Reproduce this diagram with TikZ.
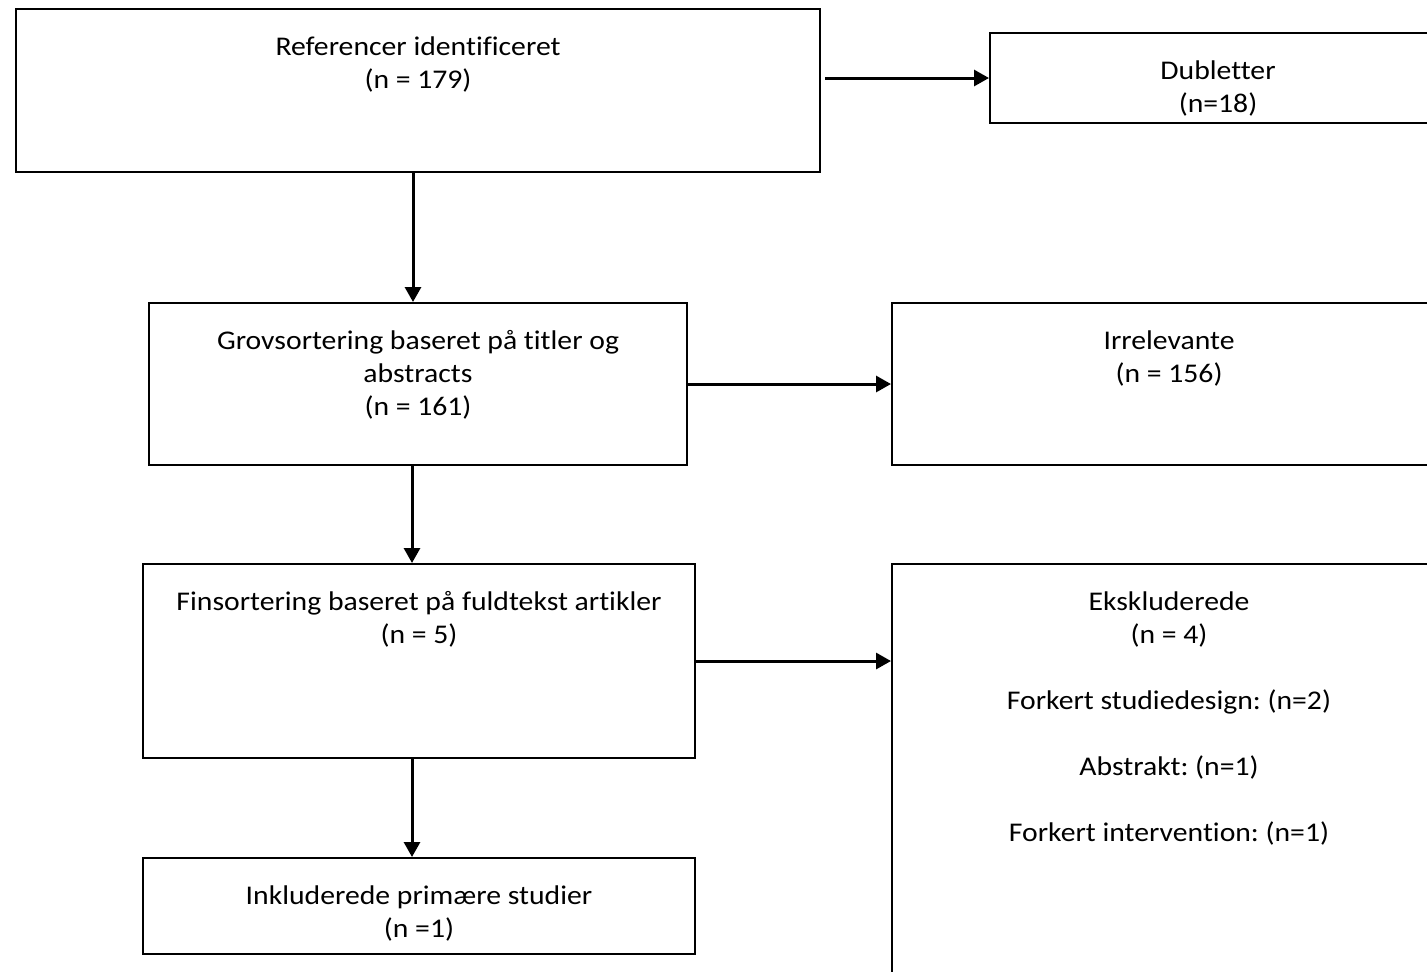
\documentclass[tikz,border=0pt]{standalone}
\usepackage{fontspec}
\setmainfont{Carlito}[FakeStretch=1.1, Ligatures=NoCommon]
\usepackage{tikz}
\usetikzlibrary{arrows.meta,positioning}
\frenchspacing

\tikzset{
  flowbox/.style={draw=black, rectangle, line width=1pt, inner sep=0pt, anchor=north west},
  boxtext/.style={draw=none, anchor=north, inner sep=0pt, align=center, yshift=-14pt,
                  font=\fontsize{13.5}{16.5}\selectfont},
  flowarrow/.style={-{Triangle[length=7.5pt,width=8pt]}, line width=1.5pt}
}

\begin{document}
\begin{tikzpicture}[x=0.5pt, y=-0.5pt]
   \useasboundingbox (0,0) rectangle (1427,971);
   \clip (0,0) rectangle (1427,971);
   % left column
   \node (ref) at (15,8) [flowbox, minimum width=402pt, minimum height=81.5pt,
      label={[boxtext]north:{Referencer identificeret\\(n = 179)}}] {};
   \node (grov) at (148,302) [flowbox, minimum width=269pt, minimum height=81pt,
      label={[boxtext]north:{Grovsortering baseret på titler og\\abstracts\\(n = 161)}}] {};
   \node (fin) at (142,563) [flowbox, minimum width=276pt, minimum height=97pt,
      label={[boxtext]north:{Finsortering baseret på fuldtekst artikler\\(n = 5)}}] {};
   \node (inc) at (142,857) [flowbox, minimum width=276pt, minimum height=48pt,
      label={[boxtext]north:{Inkluderede primære studier\\(n =1)}}] {};
   % right column
   \node (dub) at (989,32) [flowbox, minimum width=228pt, minimum height=45pt,
      label={[boxtext]north:{Dubletter\\(n=18)}}] {};
   \node (irr) at (891,302) [flowbox, minimum width=277pt, minimum height=81pt,
      label={[boxtext]north:{Irrelevante\\(n = 156)}}] {};
   \node (eks) at (891,563) [flowbox, minimum width=277pt, minimum height=225pt,
      label={[boxtext]north:{Ekskluderede\\(n = 4)\\[16.5pt]Forkert studiedesign: (n=2)\\[16.5pt]Abstrakt: (n=1)\\[16.5pt]Forkert intervention: (n=1)}}] {};
   % arrows
   \draw[flowarrow] ([xshift=2pt]ref.east |- dub.west) -- (dub.west);
   \draw[flowarrow] ([xshift=-2.5pt]ref.south) -- ([xshift=-2.5pt]ref.south |- grov.north);
   \draw[flowarrow] (grov.east) -- (irr.west);
   \draw[flowarrow] ([xshift=-3pt]grov.south) -- ([xshift=-3pt]grov.south |- fin.north);
   \draw[flowarrow] (fin.east) -- (eks.west |- fin.east);
   \draw[flowarrow] ([xshift=-3.5pt]fin.south) -- ([xshift=-3.5pt]fin.south |- inc.north);
\end{tikzpicture}
\end{document}
